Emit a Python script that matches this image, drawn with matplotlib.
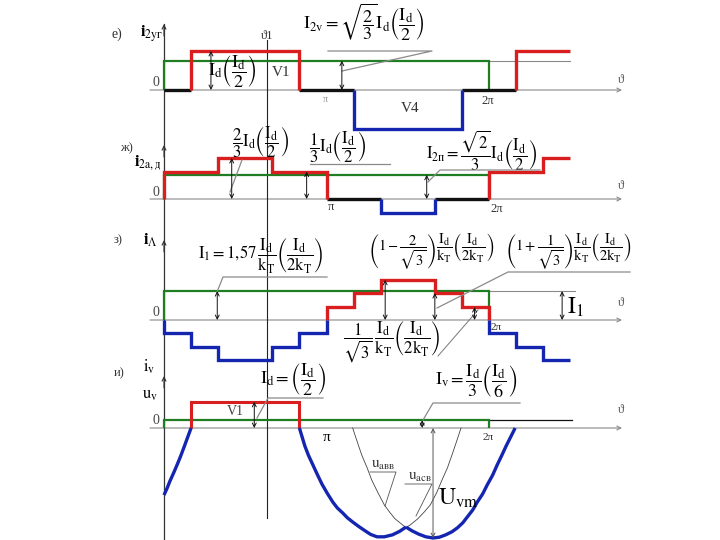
import matplotlib
matplotlib.use('Agg')
import matplotlib.pyplot as plt

plt.rcParams['font.family'] = ['Liberation Serif', 'DejaVu Serif']
plt.rcParams['mathtext.fontset'] = 'stix'

# ---------------- data (angles in degrees, levels in units) ----------------
# panel е : i_2v
e_black = [([0, 30], [0]), ([150, 210], [0]), ([330, 390], [0])]
e_red = [([30, 150], [1.0]), ([390, 450], [1.0])]
e_blue = [([210, 330], [-1.0])]
e_green = [([0, 360], [0.75])]

# panel ж : i_2a,д
zh_red = [([0, 60, 120, 180], [0.7, 1.05, 0.7]), ([360, 420, 450], [0.7, 1.05])]
zh_black = [([180, 240], [0]), ([300, 360], [0])]
zh_blue = [([240, 300], [-0.36])]
zh_green = [([0, 360], [0.62])]

# panel з : i_Λ
z_blue = [([0, 30, 60, 120, 150, 180], [-0.33, -0.69, -1.03, -0.69, -0.33]),
          ([360, 390, 420, 450], [-0.33, -0.69, -1.03])]
z_red = [([180, 210, 240, 300, 330, 360], [0.33, 0.69, 1.03, 0.69, 0.33])]
z_green = [([0, 360], [0.74])]

# panel и : i_v, u_v
i_red = [([30, 150], [0.67])]
i_green = [([0, 360], [0.2])]
u_left_theta = [0, 3.5, 6.6, 10.5, 14.4, 18.3, 22.2, 26, 30]
u_left_val = [-1.72, -1.54, -1.36, -1.16, -0.95, -0.73, -0.49, -0.25, 0]
u_arc1_theta = [150, 153, 156, 160, 165, 170, 175, 181, 187, 192, 198, 203, 209,
                216, 223, 229, 236, 244, 253, 261, 268]
u_arc1_val = [0, -0.23, -0.46, -0.70, -0.95, -1.20, -1.44, -1.68, -1.90, -2.05,
              -2.18, -2.30, -2.41, -2.53, -2.64, -2.73, -2.79, -2.79, -2.74, -2.65, -2.54]
u_arc2_theta = [268, 275, 282, 290, 298, 305, 312, 319, 325, 331, 336, 342, 347,
                353, 358, 364, 369, 374, 379, 384, 389]
u_arc2_val = [-2.54, -2.64, -2.72, -2.79, -2.82, -2.80, -2.74, -2.66, -2.56, -2.43,
              -2.28, -2.10, -1.90, -1.69, -1.46, -1.21, -0.95, -0.71, -0.46, -0.23, 0]
u_thinA_theta = [209, 214, 219, 225, 230, 237, 244, 250, 256, 264, 272]
u_thinA_val = [0, -0.35, -0.69, -1.02, -1.33, -1.66, -1.97, -2.16, -2.33, -2.48, -2.62]
u_thinB_theta = [329, 324, 319, 314, 308, 302, 295, 288, 281, 273, 264]
u_thinB_val = [0, -0.35, -0.69, -1.02, -1.33, -1.66, -1.97, -2.16, -2.33, -2.48, -2.62]
theta1 = 114

# ---------------- layout ----------------
K = 162.5 / 180.0     # px per degree
S = 39.0              # px per unit
X0 = 164.0            # px of theta = 0
base = {'e': 90, 'zh': 199, 'z': 320, 'i': 428}   # px of zero lines

RED = '#d81e1e'
GREEN = '#1f7d22'
BLUE = '#1426b0'
BLACK = '#111111'
GRAY = '#8a8a8a'

fig = plt.figure(figsize=(7.2, 5.4), dpi=100)
ax = fig.add_axes([0, 0, 1, 1])
ax.set_xlim(-X0 / K, (720 - X0) / K)
ax.set_ylim(-540 / S, 0)
ax.axis('off')


def P(x, y):
    return ((x - X0) / K, -y / S)


def yb(p):
    return -base[p] / S


def steps(segs, panel, color, lw, close_end=True):
    for k, (edges, levels) in enumerate(segs):
        xs = [edges[0]]
        ys = [0]
        for i, lv in enumerate(levels):
            xs += [edges[i], edges[i + 1]]
            ys += [lv, lv]
        last_open = (not close_end) and k == len(segs) - 1
        if levels[-1] != 0 and not (edges[-1] > 360 and last_open):
            xs.append(edges[-1])
            ys.append(0)
        ax.plot(xs, [yb(panel) + v for v in ys], color=color, lw=lw,
                solid_joinstyle='miter', solid_capstyle='butt', zorder=3)


def dim(theta, v0, v1, panel, color=BLACK):
    ax.annotate('', xy=(theta, yb(panel) + v1), xytext=(theta, yb(panel) + v0),
                arrowprops=dict(arrowstyle='<->', lw=0.7, color=color,
                                shrinkA=0, shrinkB=0, mutation_scale=7), zorder=5)


def leader(pts, color=GRAY, lw=0.9):
    xs, ys = zip(*[P(x, y) for x, y in pts])
    ax.plot(xs, ys, color=color, lw=lw, zorder=4)


Id = r'\mathrm{I}_{\mathrm{d}}'
kT = r'\mathrm{k}_{\mathrm{T}}'

# vertical axis and theta1 line
ax.plot(*zip(P(164, 24), P(164, 540)), color='#333333', lw=0.9, zorder=2)
ax.plot([theta1, theta1], [P(0, 40)[1], P(0, 518)[1]], color='#222222', lw=0.8, zorder=2)
for ytip in (24, 145, 240, 376):
    ax.annotate('', xy=P(164, ytip), xytext=P(164, ytip + 12),
                arrowprops=dict(arrowstyle='->', lw=0.8, color='#333333',
                                shrinkA=0, shrinkB=0, mutation_scale=7))

# horizontal axes
for p, lab_y in (('e', 80), ('zh', 186), ('z', 303), ('i', 410)):
    ax.annotate('', xy=P(622, base[p]), xytext=P(150, base[p]),
                arrowprops=dict(arrowstyle='->', lw=0.8, color=GRAY,
                                shrinkA=0, shrinkB=0, mutation_scale=7), zorder=1)
    ax.text(*P(621, lab_y), 'ϑ', fontsize=9, color='#555555', ha='center', va='center')
    ax.text(*P(156, base[p] - 7), '0', fontsize=10, color='#444444', ha='center', va='center')

# ---------------- panel е ----------------
ax.plot([360, 450], [yb('e') + 0.75] * 2, color=GRAY, lw=0.8, zorder=1)
steps(e_green, 'e', GREEN, 1.6)
steps(e_black, 'e', BLACK, 2.4)
steps(e_red, 'e', RED, 2.4, close_end=False)
steps(e_blue, 'e', BLUE, 2.4)
dim(52, 0, 1.0, 'e')
dim(197, 0, 0.75, 'e')
ax.text(*P(112, 34), 'е)', fontsize=10, color='#333333', va='center')
ax.text(*P(140, 34), r'$\mathbf{i}_{2\mathrm{уг}}$', fontsize=12, va='center')
ax.text(*P(267, 36), 'ϑ1', fontsize=9, ha='center', va='center', color='#333333')
ax.text(*P(364, 22), r'$\mathrm{I}_{2\mathrm{v}}=\sqrt{\dfrac{2}{3}}' + Id + r'\left(\dfrac{' + Id + r'}{2}\right)$',
        fontsize=13, ha='center', va='center')
leader([(328, 51), (432, 51), (342, 71)])
ax.text(*P(232, 72), r'$' + Id + r'\left(\dfrac{' + Id + r'}{2}\right)$',
        fontsize=13, ha='center', va='center')
ax.text(*P(281, 72), 'V1', fontsize=11, ha='center', va='center', color='#333333')
ax.text(*P(410, 108), 'V4', fontsize=11, ha='center', va='center', color='#333333')
ax.text(*P(325, 100), 'π', fontsize=7, ha='center', va='center', color='#999999')
ax.text(*P(488, 101), '2π', fontsize=9, ha='center', va='center', color='#333333')

# ---------------- panel ж ----------------
steps(zh_green, 'zh', GREEN, 1.6)
steps(zh_black, 'zh', BLACK, 2.4)
steps(zh_red, 'zh', RED, 2.4, close_end=False)
steps(zh_blue, 'zh', BLUE, 2.4)
dim(75, 0, 1.05, 'zh')
dim(158, 0, 0.7, 'zh')
dim(291, 0, 0.62, 'zh')
ax.text(*P(120, 148), 'ж)', fontsize=9, color='#333333', va='center')
ax.text(*P(134, 163), r'$\mathbf{i}_{2\mathrm{a,д}}$', fontsize=12, va='center')
ax.text(*P(261, 142), r'$\dfrac{2}{3}' + Id + r'\left(\dfrac{' + Id + r'}{2}\right)$',
        fontsize=12, ha='center', va='center')
leader([(242, 160), (230, 192)])
ax.text(*P(338, 147), r'$\dfrac{1}{3}' + Id + r'\left(\dfrac{' + Id + r'}{2}\right)$',
        fontsize=12, ha='center', va='center')
leader([(310, 164), (390, 164)])
ax.text(*P(482, 151), r'$\mathrm{I}_{2\mathrm{п}}=\dfrac{\sqrt{2}}{3}' + Id + r'\left(\dfrac{' + Id + r'}{2}\right)$',
        fontsize=12, ha='center', va='center')
leader([(540, 170), (440, 170), (428, 182)])
ax.text(*P(331, 207), 'π', fontsize=9, ha='center', va='center', color='#333333')
ax.text(*P(497, 209), '2π', fontsize=9, ha='center', va='center', color='#333333')

# ---------------- panel з ----------------
ax.plot([360, 455], [yb('z') + 0.74] * 2, color=GRAY, lw=0.8, zorder=1)
steps(z_green, 'z', GREEN, 1.6)
steps(z_red, 'z', RED, 2.4)
steps(z_blue, 'z', BLUE, 2.4, close_end=False)
dim(59, 0, 0.74, 'z')
dim(245, 0, 1.03, 'z')
dim(300, 0, 0.69, 'z')
dim(344, 0, 0.33, 'z')
dim(441, 0, 0.74, 'z')
ax.text(*P(114, 240), 'з)', fontsize=9, color='#333333', va='center')
ax.text(*P(143, 240), r'$\mathbf{i}_{\Lambda}$', fontsize=12, va='center')
ax.text(*P(261, 256), r'$\mathrm{I}_{1}=1{,}57\,\dfrac{' + Id + '}{' + kT + r'}\left(\dfrac{' + Id + '}{2' + kT + r'}\right)$',
        fontsize=12, ha='center', va='center')
leader([(327, 277), (223, 277), (217, 292)])
ax.text(*P(431, 252), r'$\left(1-\dfrac{2}{\sqrt{3}}\right)\dfrac{' + Id + '}{' + kT + r'}\left(\dfrac{' + Id + '}{2' + kT + r'}\right)$',
        fontsize=10.5, ha='center', va='center')
ax.text(*P(568, 252), r'$\left(1+\dfrac{1}{\sqrt{3}}\right)\dfrac{' + Id + '}{' + kT + r'}\left(\dfrac{' + Id + '}{2' + kT + r'}\right)$',
        fontsize=10.5, ha='center', va='center')
leader([(630, 272), (508, 272), (437, 308)])
ax.text(*P(392, 342), r'$\dfrac{1}{\sqrt{3}}\,\dfrac{' + Id + '}{' + kT + r'}\left(\dfrac{' + Id + '}{2' + kT + r'}\right)$',
        fontsize=12, ha='center', va='center')
leader([(438, 356), (478, 310)], color='#777777', lw=0.7)
ax.text(*P(575, 307), r'$\mathrm{I}_{1}$', fontsize=17, ha='center', va='center')
ax.text(*P(496, 328), '2π', fontsize=8, ha='center', va='center', color='#333333')

# ---------------- panel и ----------------
ax.plot([360, 452], [yb('i') + 0.2] * 2, color=BLACK, lw=0.9, zorder=2)
steps(i_green, 'i', GREEN, 1.6)
steps(i_red, 'i', RED, 2.2)
bi = yb('i')
ax.plot(u_thinA_theta, [bi + v for v in u_thinA_val], color='#444444', lw=0.6, zorder=2)
ax.plot(u_thinB_theta, [bi + v for v in u_thinB_val], color='#444444', lw=0.6, zorder=2)
for th, vv in ((u_left_theta, u_left_val), (u_arc1_theta, u_arc1_val), (u_arc2_theta, u_arc2_val)):
    ax.plot(th, [bi + v for v in vv], color=BLUE, lw=2.4, zorder=3, solid_capstyle='butt')
dim(100, 0, 0.67, 'i')
dim(286, 0, 0.2, 'i')
dim(298, 0, -2.82, 'i', color='#555555')
ax.text(*P(114, 373), 'и)', fontsize=9, color='#333333', va='center')
ax.text(*P(143, 367), r'$\mathrm{i}_{\mathrm{v}}$', fontsize=12, va='center')
ax.text(*P(142, 395), r'$\mathrm{u}_{\mathrm{v}}$', fontsize=12, va='center')
ax.text(*P(293, 380), r'$' + Id + r'=\left(\dfrac{' + Id + r'}{2}\right)$',
        fontsize=13, ha='center', va='center')
leader([(323, 398), (268, 398), (257, 418)])
ax.text(*P(235, 412), 'V1', fontsize=10, ha='center', va='center', color='#444444')
ax.text(*P(327, 438), 'π', fontsize=11, ha='center', va='center')
ax.text(*P(476, 381), r'$\mathrm{I}_{\mathrm{v}}=\dfrac{' + Id + r'}{3}\left(\dfrac{' + Id + r'}{6}\right)$',
        fontsize=13, ha='center', va='center')
leader([(520, 403), (433, 403), (423, 420)])
ax.text(*P(488, 438), '2π', fontsize=8, ha='center', va='center', color='#333333')
ax.text(*P(383, 465), r'$\mathrm{u}_{\mathrm{авв}}$', fontsize=11, ha='center', va='center', color='#333333')
leader([(370, 472), (396, 472), (385, 506)], color='#555555', lw=0.6)
ax.text(*P(420, 477), r'$\mathrm{u}_{\mathrm{асв}}$', fontsize=11, ha='center', va='center', color='#333333')
leader([(405, 484), (432, 484), (416, 516)], color='#555555', lw=0.6)
ax.text(*P(458, 498), r'$\mathrm{U}_{\mathrm{vm}}$', fontsize=17, ha='center', va='center')

fig.savefig('out.png', dpi=100)
